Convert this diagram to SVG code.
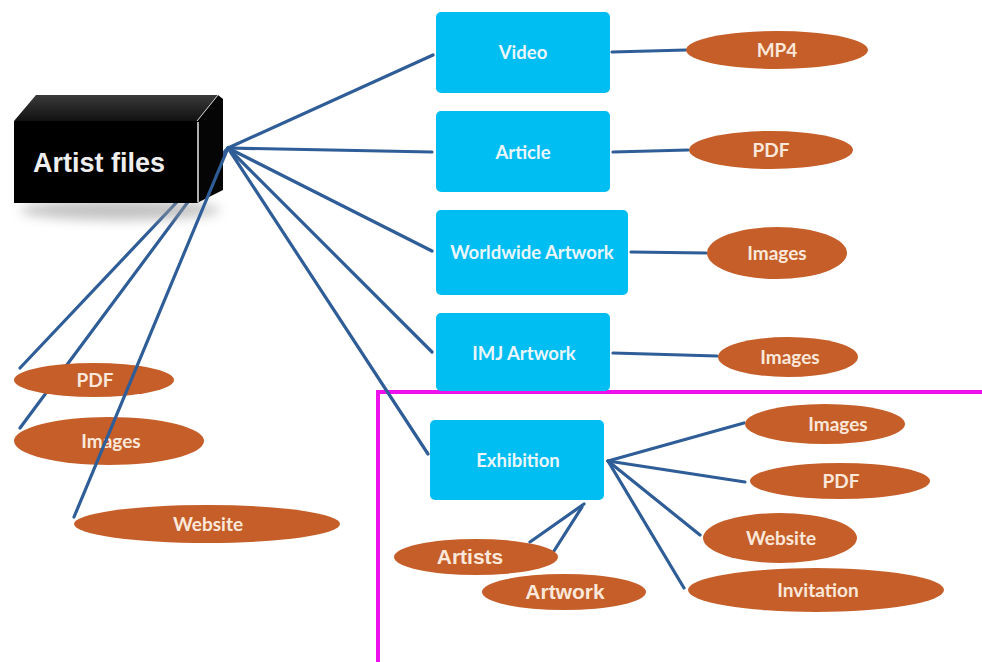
<svg xmlns="http://www.w3.org/2000/svg" width="982" height="662" viewBox="0 0 982 662">
<defs>
<filter id="blur" x="-20%" y="-50%" width="140%" height="200%"><feGaussianBlur stdDeviation="6"/></filter>
<linearGradient id="topface" x1="0" y1="0" x2="0" y2="1"><stop offset="0" stop-color="#3a3a3a"/><stop offset="1" stop-color="#111"/></linearGradient>
</defs>
<style>
.ln{stroke:#2F5D97;stroke-width:3.2;fill:none;stroke-linecap:round}
.box{fill:#00BEF2}
.ell{fill:#C55E29}
.bt{font-family:Lato,"Open Sans",sans-serif;font-size:18.5px;font-weight:bold;fill:#EAF6FB;text-anchor:middle}
.et{font-family:Lato,"Open Sans",sans-serif;font-size:19px;font-weight:bold;fill:#FBE8DA;text-anchor:middle}
.eb{font-family:"Liberation Sans",Arial,sans-serif;font-size:21px;font-weight:bold;fill:#FBE8DA;text-anchor:middle}
</style>
<rect width="982" height="662" fill="#fff"/>
<path d="M378 662 V392 H982" fill="none" stroke="#EE11EE" stroke-width="4"/>
<g id="connectors">
<line class="ln" x1="228" y1="148" x2="433" y2="55"/>
<line class="ln" x1="228" y1="148" x2="432" y2="152"/>
<line class="ln" x1="228" y1="148" x2="432" y2="251"/>
<line class="ln" x1="228" y1="148" x2="432" y2="352"/>
<line class="ln" x1="228" y1="148" x2="428" y2="454"/>
<line class="ln" x1="228" y1="148" x2="20" y2="368"/>
<line class="ln" x1="228" y1="148" x2="20" y2="428"/>
<line class="ln" x1="612" y1="52" x2="686" y2="50"/>
<line class="ln" x1="613" y1="152" x2="688" y2="150"/>
<line class="ln" x1="631" y1="252" x2="706" y2="253"/>
<line class="ln" x1="613" y1="353" x2="717" y2="356"/>
<line class="ln" x1="608" y1="461" x2="744" y2="423"/>
<line class="ln" x1="608" y1="461" x2="745" y2="482"/>
<line class="ln" x1="608" y1="461" x2="700" y2="535"/>
<line class="ln" x1="608" y1="461" x2="684" y2="588"/>
<line class="ln" x1="584" y1="504" x2="530" y2="542"/>
<line class="ln" x1="582" y1="507" x2="554" y2="551"/>
</g>
<g id="artist-files">
<ellipse cx="120" cy="210" rx="100" ry="10" fill="#9a9a9a" opacity="0.6" filter="url(#blur)"/>
<polygon points="14,121 36,95 218,95 197,121" fill="url(#topface)"/>
<polygon points="197,121 218,95 223,99 223,190 197,203" fill="#050505"/>
<rect x="14" y="121" width="183" height="82" fill="#000"/>
<line x1="198" y1="122" x2="198" y2="202" stroke="#e8e8e8" stroke-width="1.5"/>
<line x1="197" y1="121" x2="218" y2="95" stroke="#cfcfcf" stroke-width="1"/>
<text x="99" y="172" font-family="'Liberation Sans',Arial,sans-serif" font-size="27" font-weight="bold" fill="#eeeeee" text-anchor="middle">Artist files</text>
</g>
<g id="video"><rect class="box" x="436" y="12" width="174" height="81" rx="5"/><text class="bt" x="523" y="59">Video</text></g>
<g id="article"><rect class="box" x="436" y="111" width="174" height="81" rx="5"/><text class="bt" x="523" y="159">Article</text></g>
<g id="worldwide-artwork"><rect class="box" x="436" y="210" width="192" height="85" rx="5"/><text class="bt" x="532" y="259">Worldwide Artwork</text></g>
<g id="imj-artwork"><rect class="box" x="436" y="313" width="174" height="78" rx="5"/><text class="bt" x="524" y="360">IMJ Artwork</text></g>
<g id="exhibition"><rect class="box" x="430" y="420" width="174" height="80" rx="5"/><text class="bt" x="518" y="467">Exhibition</text></g>
<g id="mp4"><ellipse class="ell" cx="777" cy="50" rx="91" ry="19"/><text class="et" x="777" y="57">MP4</text></g>
<g id="article-pdf"><ellipse class="ell" cx="771" cy="150" rx="82" ry="19"/><text class="et" x="771" y="157">PDF</text></g>
<g id="worldwide-images"><ellipse class="ell" cx="777" cy="253" rx="70" ry="26"/><text class="et" x="777" y="260">Images</text></g>
<g id="imj-images"><ellipse class="ell" cx="788" cy="357" rx="70" ry="20"/><text class="et" x="790" y="364">Images</text></g>
<g id="exh-images"><ellipse class="ell" cx="825" cy="424" rx="80" ry="20"/><text class="et" x="838" y="431">Images</text></g>
<g id="exh-pdf"><ellipse class="ell" cx="840" cy="481" rx="90" ry="18"/><text class="et" x="841" y="488">PDF</text></g>
<g id="exh-website"><ellipse class="ell" cx="780" cy="538" rx="77" ry="25"/><text class="et" x="781" y="545">Website</text></g>
<g id="exh-invitation"><ellipse class="ell" cx="816" cy="590" rx="128" ry="22"/><text class="et" x="818" y="597">Invitation</text></g>
<g id="artists"><ellipse class="ell" cx="476" cy="557" rx="82" ry="18"/><text class="eb" x="470" y="564">Artists</text></g>
<g id="artwork"><ellipse class="ell" cx="564" cy="592" rx="82" ry="18"/><text class="eb" x="565" y="599">Artwork</text></g>
<g id="left-pdf"><ellipse class="ell" cx="94" cy="380" rx="80" ry="17"/><text class="et" x="95" y="387">PDF</text></g>
<g id="left-images"><ellipse class="ell" cx="109" cy="441" rx="95" ry="24"/><text class="et" x="111" y="448">Images</text></g>
<g id="left-website"><ellipse class="ell" cx="207" cy="524" rx="133" ry="19"/><text class="et" x="208" y="531">Website</text></g>
<g id="connectors-top">
<line class="ln" x1="228" y1="148" x2="74" y2="517"/>
</g>
</svg>
